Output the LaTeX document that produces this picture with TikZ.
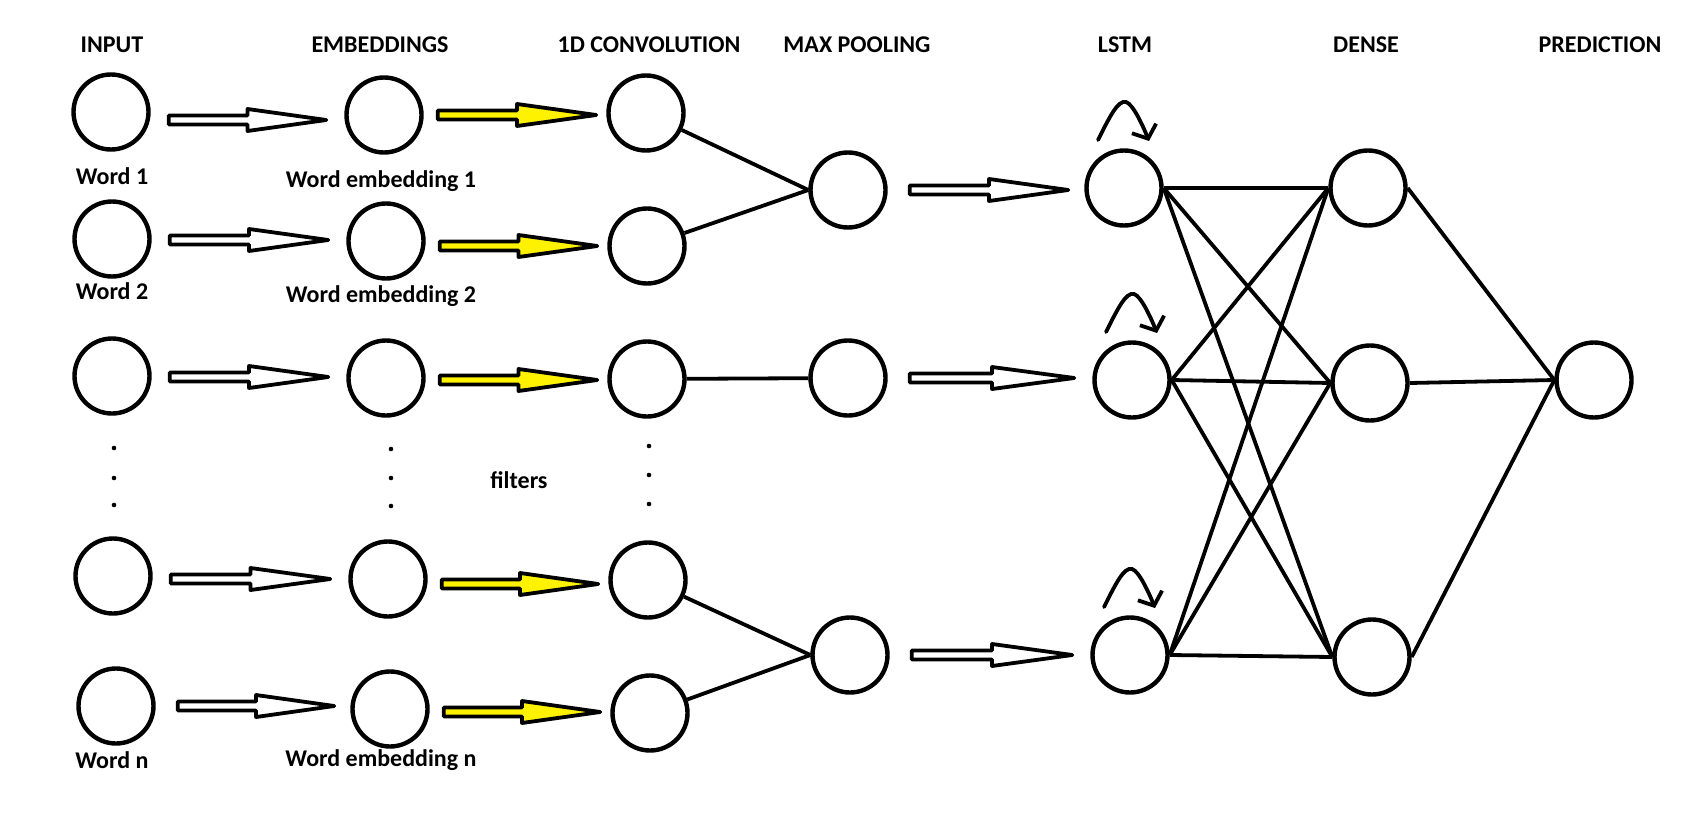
\documentclass[tikz,border=0pt]{standalone}
\usepackage{fontspec}
\setmainfont{Carlito}
\usetikzlibrary{calc,arrows.meta}
\newcommand\blockarr[6]{%
  \draw[barrow,fill=#1] let \p1=(#2.east),\p2=(#3.west),\n1={\x1+#5},\n2={\x2-#6},\n3={(\n1+\n2)/2} in
  (\n1,#4-4.5) -- (\n3,#4-4.5) -- (\n3,#4-11) -- (\n2,#4) -- (\n3,#4+11) -- (\n3,#4+4.5) -- (\n1,#4+4.5) -- cycle;}
\begin{document}
\begin{tikzpicture}[x=1pt,y=-1pt,
  neuron/.style={circle,draw,line width=4.4pt,minimum size=75pt,inner sep=0pt},
  lbl/.style={font=\bfseries\fontsize{24}{28}\selectfont,inner sep=0pt,anchor=base},
  conn/.style={line width=3.8pt},
  barrow/.style={line width=3.8pt,line join=round},
  dotm/.style={circle,fill,inner sep=0pt,minimum size=4.6pt},
  recur/.style={line width=3.8pt,line cap=round,-{Straight Barb[length=11pt,width=26pt]}},
]
\fill[white] (0,0) rectangle (1704,832);
\useasboundingbox (0,0) rectangle (1704,832);

% headers
\node[lbl] (hin) at (112,53) {INPUT};
\node[lbl] (hemb) at (380,53) {EMBEDDINGS};
\node[lbl] (hconv) at (649,53) {1D CONVOLUTION};
\node[lbl] (hmax) at (857,53) {MAX POOLING};
\node[lbl] (hlstm) at (1125,53) {LSTM};
\node[lbl] (hden) at (1366,53) {DENSE};
\node[lbl] (hpred) at (1600,53) {PREDICTION};

% input
\node[neuron] (i1) at (111,112) {};
\node[neuron] (i2) at (112,239) {};
\node[neuron] (i3) at (112,376) {};
\node[neuron] (i4) at (113,576) {};
\node[neuron] (i5) at (116,706) {};
% embeddings
\node[neuron] (e1) at (384,115) {};
\node[neuron] (e2) at (386,241) {};
\node[neuron] (e3) at (386,378) {};
\node[neuron] (e4) at (388,579) {};
\node[neuron] (e5) at (390,709) {};
% convolution
\node[neuron] (c1) at (646,113) {};
\node[neuron] (c2) at (647,246) {};
\node[neuron] (c3) at (647,379) {};
\node[neuron] (c4) at (648,580) {};
\node[neuron] (c5) at (650,713) {};
% max pooling
\node[neuron] (m1) at (848,190) {};
\node[neuron] (m2) at (848,378) {};
\node[neuron] (m3) at (850,655) {};
% lstm
\node[neuron] (l1) at (1124,188) {};
\node[neuron] (l2) at (1132,380) {};
\node[neuron] (l3) at (1130,655) {};
% dense
\node[neuron] (d1) at (1368,188) {};
\node[neuron] (d2) at (1370,383) {};
\node[neuron] (d3) at (1372,657) {};
% prediction
\node[neuron] (p) at (1594,380) {};

% word labels
\node[lbl] (w1) at (112,184) {Word 1};
\node[lbl] (w2) at (112,299) {Word 2};
\node[lbl] (wn) at (112,768) {Word n};
\node[lbl] (we1) at (381,187) {Word embedding 1};
\node[lbl] (we2) at (381,302) {Word embedding 2};
\node[lbl] (wen) at (381,766) {Word embedding n};
\node[lbl] (filt) at (519,488) {filters};

% dots
\foreach \y in {448,478,505} \node[dotm] at (114,\y) {};
\foreach \y in {449,478,506} \node[dotm] at (391,\y) {};
\foreach \y in {446,475,504} \node[dotm] at (649,\y) {};

% block arrows
\blockarr{white}{i1}{e1}{120}{18}{18}
\blockarr{white}{i2}{e2}{240}{18}{18}
\blockarr{white}{i3}{e3}{377}{18}{18}
\blockarr{white}{i4}{e4}{579}{18}{18}
\blockarr{white}{i5}{e5}{706}{22}{16}
\blockarr{yellow}{e1}{c1}{115}{14}{10}
\blockarr{yellow}{e2}{c2}{246}{14}{10}
\blockarr{yellow}{e3}{c3}{380}{14}{10}
\blockarr{yellow}{e4}{c4}{584}{14}{10}
\blockarr{yellow}{e5}{c5}{712}{14}{10}
\blockarr{white}{m1}{l1}{190}{22}{16}
\blockarr{white}{m2}{l2}{378}{22}{18}
\blockarr{white}{m3}{l3}{655}{22}{18}

% conv -> pooling
\draw[conn] (c1) -- (m1.west);
\draw[conn] (c2) -- (m1.west);
\draw[conn] (c3) -- (m2);
\draw[conn] (c4) -- (m3.west);
\draw[conn] (c5) -- (m3.west);

% lstm -> dense
\foreach \a in {l1,l2,l3}
  \foreach \b in {d1,d2,d3}
    \draw[conn] (\a.east) -- (\b.west);
% dense -> prediction
\foreach \a in {d1,d2,d3}
  \draw[conn] (\a.east) -- (p.west);

% recurrent arrows
\foreach \n in {l1,l2,l3}
  \draw[recur] ($(\n)+(-26,-48)$) .. controls ($(\n)+(-14,-72)$) and ($(\n)+(-6,-88)$) .. ($(\n)+(2,-86)$)
    .. controls ($(\n)+(9,-84)$) and ($(\n)+(19,-62)$) .. ($(\n)+(25,-47)$);
\end{tikzpicture}
\end{document}
